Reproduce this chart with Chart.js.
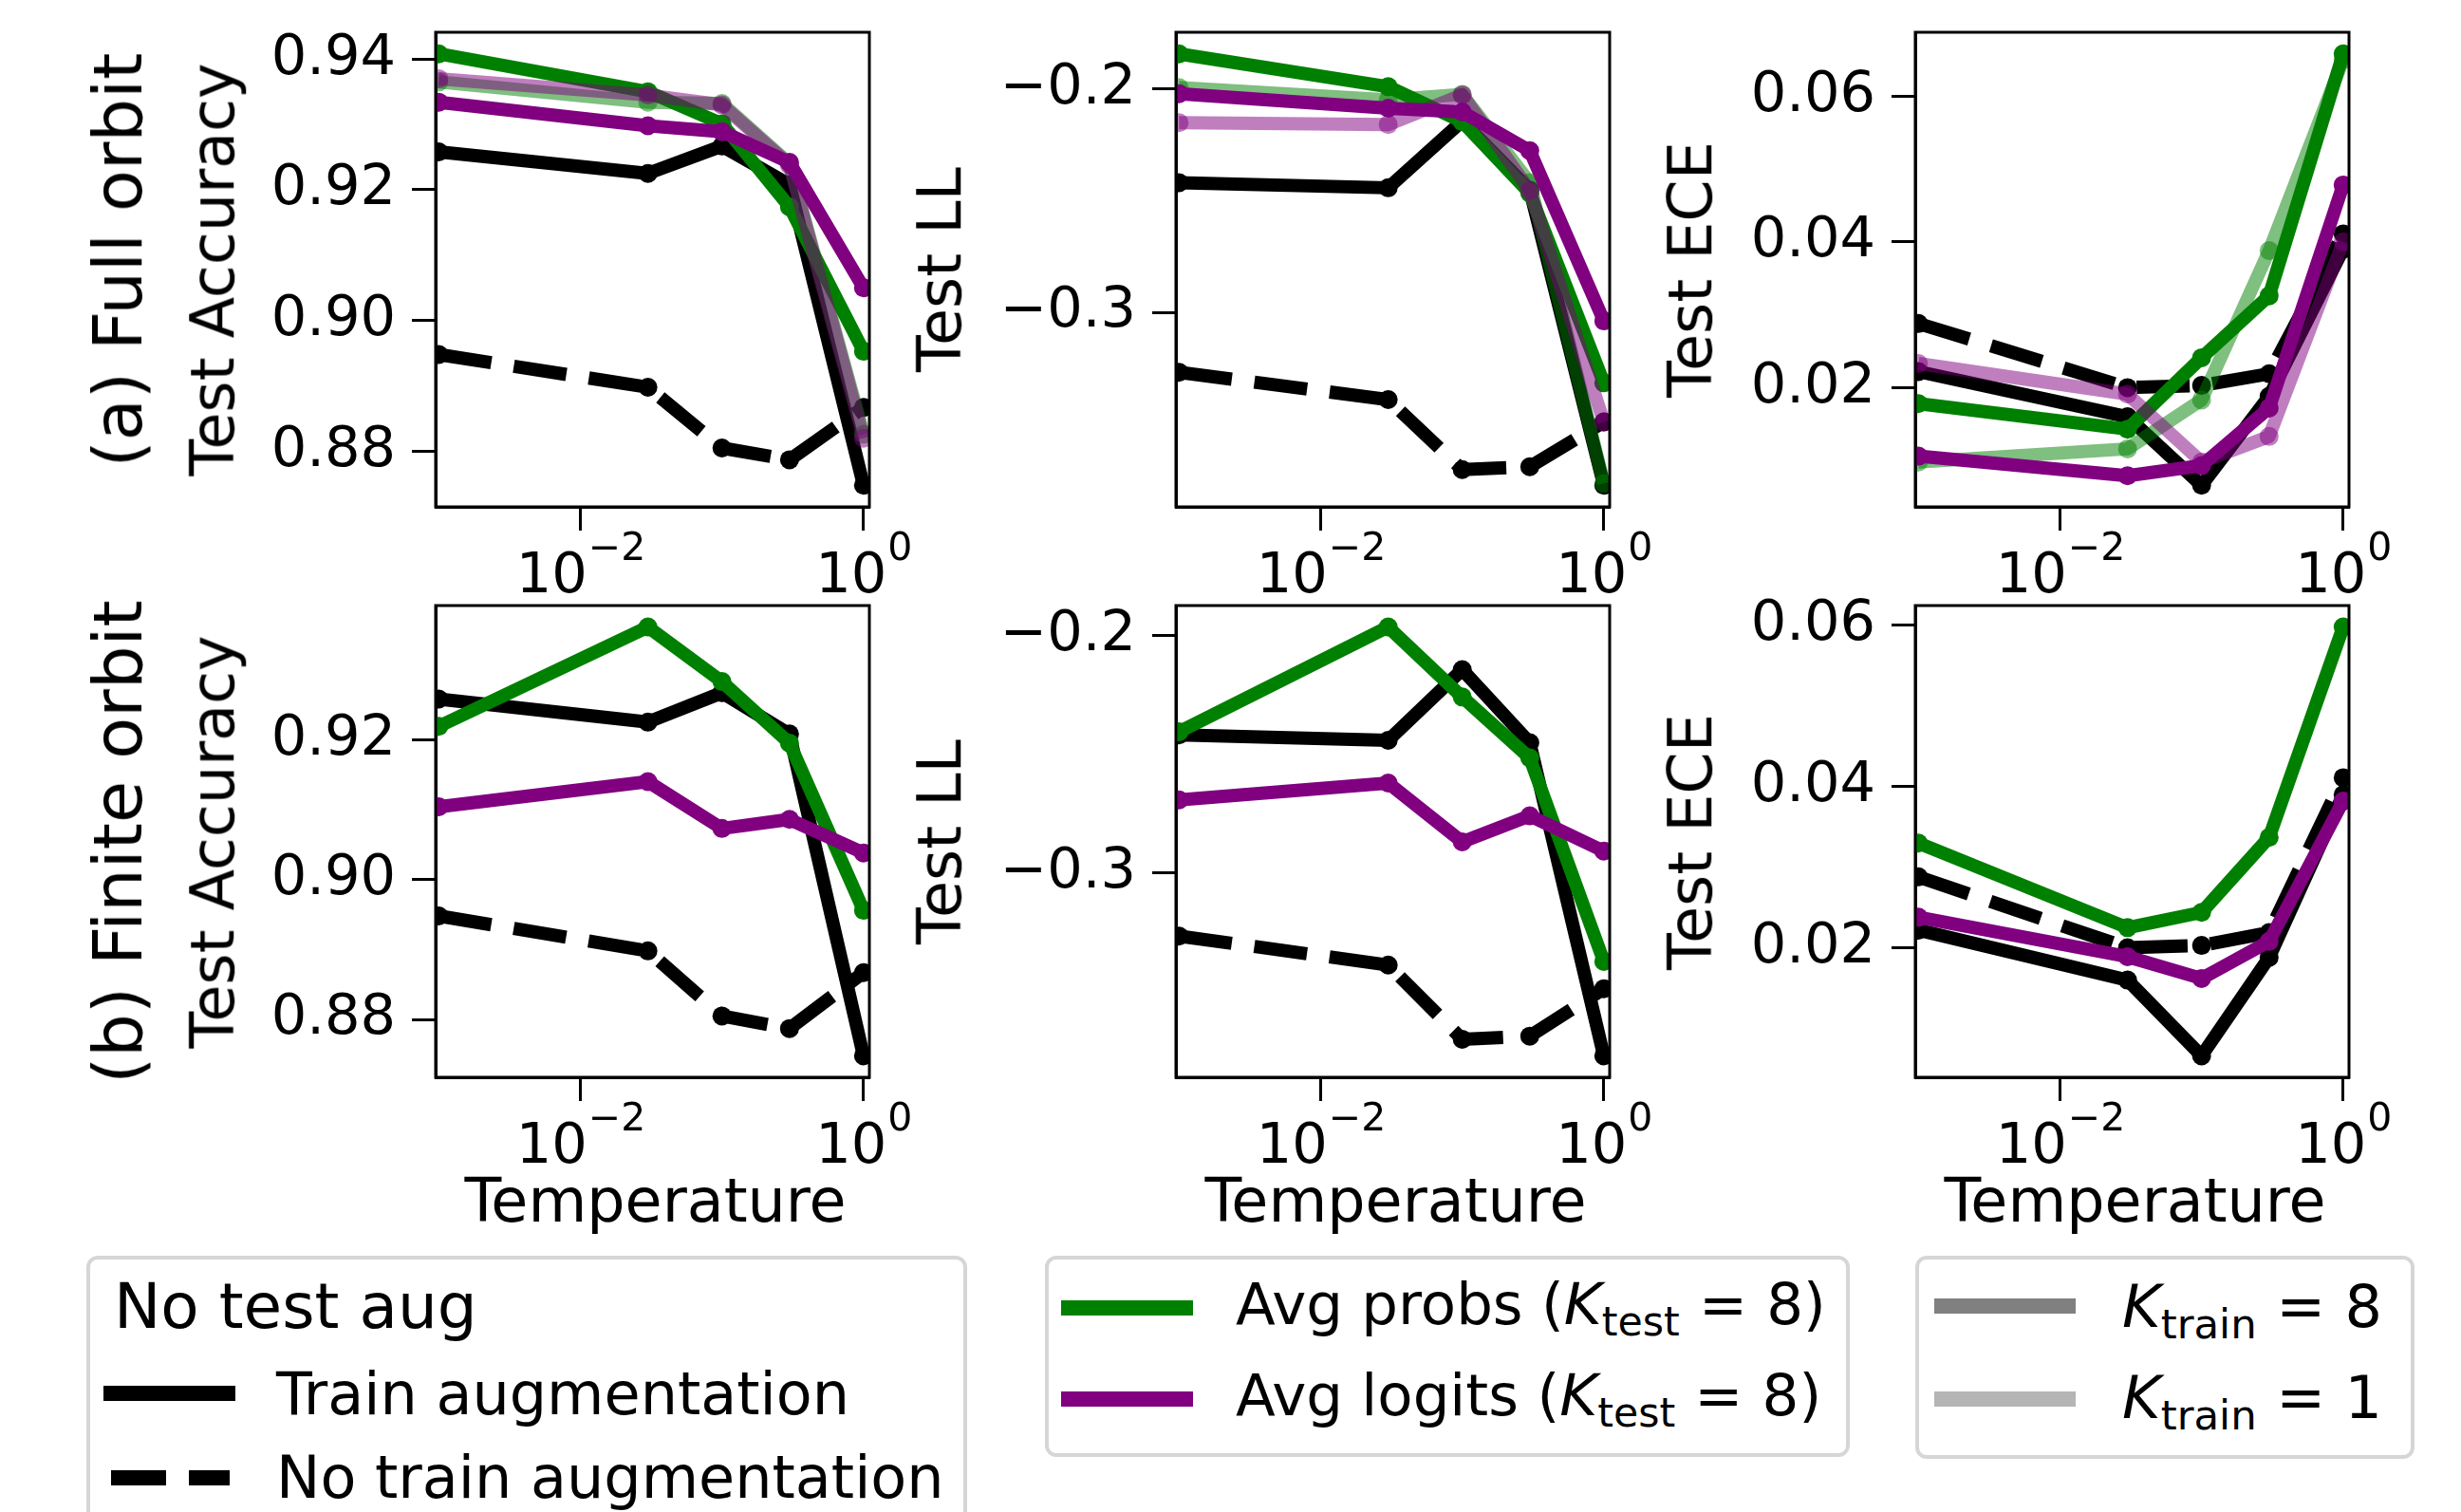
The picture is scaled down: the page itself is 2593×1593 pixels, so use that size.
<!DOCTYPE html>
<html>
<head>
<meta charset="utf-8">
<script src="https://cdn.jsdelivr.net/npm/chart.js@4.4.1/dist/chart.umd.min.js"></script>
<style>
  html, body { margin: 0; padding: 0; background: #fff; }
  body { width: 2593px; height: 1593px; position: relative; overflow: hidden;
         font-family: 'DejaVu Sans', sans-serif; color: #000; }
  canvas { position: absolute; }
  .txt { position: absolute; white-space: nowrap; line-height: 1; }
  .rot { transform: translate(-50%, -50%) rotate(-90deg); }
  .hc { transform: translateX(-50%); }
  .box { position: absolute; box-sizing: border-box; border: 4px solid #d6d6d6;
         border-radius: 12px; background: #fff; }
  .line { position: absolute; height: 16px; }
  .k { font-style: italic; }
  .sub { font-size: 0.7em; position: relative; top: 0.28em; }
  .eq { margin: 0 0.33em; }
</style>
</head>
<body>
<script>
// Temperatures (x axis, log scale)
const temps = [0.001, 0.03, 0.1, 0.3, 1.0];

// No test aug (same in both rows)
const accTrainAug   = [0.9258, 0.9225, 0.9267, 0.9208, 0.8748];
const accNoTrainAug = [0.8948, 0.8898, 0.8805, 0.8787, 0.8867];
const llTrainAug    = [-0.2420, -0.2443, -0.2145, -0.2453, -0.3773];
const llNoTrainAug  = [-0.3268, -0.3390, -0.3703, -0.3690, -0.3490];
const eceTrainAug   = [0.0222, 0.0160, 0.0066, 0.0188, 0.0390];
const eceNoTrainAug = [0.0288, 0.0200, 0.0203, 0.0219, 0.0411];

// (a) Full orbit, Ktrain = 8 and Ktrain = 1
const fullAccProbs8   = [0.9408, 0.9350, 0.9301, 0.9174, 0.8953];
const fullAccProbs1   = [0.9365, 0.9334, 0.9332, 0.9240, 0.8826];
const fullAccLogits8  = [0.9334, 0.9298, 0.9289, 0.9242, 0.9050];
const fullAccLogits1  = [0.9370, 0.9345, 0.9330, 0.9238, 0.8820];
const fullLLProbs8    = [-0.1844, -0.1991, -0.2147, -0.2467, -0.3315];
const fullLLProbs1    = [-0.1995, -0.2050, -0.2025, -0.2420, -0.3765];
const fullLLLogits8   = [-0.2022, -0.2087, -0.2104, -0.2277, -0.3038];
const fullLLLogits1   = [-0.2152, -0.2160, -0.2028, -0.2455, -0.3490];
const fullECEProbs8   = [0.0178, 0.0143, 0.0241, 0.0326, 0.0658];
const fullECEProbs1   = [0.0098, 0.0116, 0.0183, 0.0388, 0.0650];
const fullECELogits8  = [0.0106, 0.0079, 0.0093, 0.0172, 0.0478];
const fullECELogits1  = [0.0233, 0.0191, 0.0098, 0.0133, 0.0400];

// (b) Finite orbit
const finAccProbs  = [0.9219, 0.9361, 0.9283, 0.9195, 0.8956];
const finAccLogits = [0.9104, 0.9140, 0.9073, 0.9086, 0.9038];
const finLLProbs   = [-0.2407, -0.1965, -0.2260, -0.2517, -0.3375];
const finLLLogits  = [-0.2694, -0.2623, -0.2871, -0.2761, -0.2910];
const finECEProbs  = [0.0330, 0.0225, 0.0244, 0.0337, 0.0598];
const finECELogits = [0.0238, 0.0189, 0.0162, 0.0208, 0.0382];

// Tick values
const tempTicks = [0.01, 1];
const accTicks = [0.88, 0.90, 0.92, 0.94];
const llTicks = [-0.3, -0.2];
const eceTicks = [0.02, 0.04, 0.06];

const GREEN = '#008000', PURPLE = '#800080', BLACK = '#000000';
const LGREEN = 'rgba(0,128,0,0.5)', LPURPLE = 'rgba(128,0,128,0.5)';
const TICK_SIZE = 59;

// panel geometry (page pixels)
const colLeft = [459, 1239, 2018];
const rowTop = [34, 638];
const rowH = [500, 497];
const PW = 457;
const PAD_L = 330, PAD_T = 60, PAD_R = 120, PAD_B = 130;

Chart.defaults.font.family = "'DejaVu Sans'";
Chart.defaults.color = '#000';

function serie(values, color, order, extra) {
  return Object.assign({
    data: temps.map((t, i) => ({ x: t, y: values[i] })),
    borderColor: color,
    backgroundColor: color,
    pointBackgroundColor: color,
    pointBorderWidth: 0,
    pointRadius: 10,
    borderWidth: 14,
    borderJoinStyle: 'round',
    borderCapStyle: 'butt',
    tension: 0,
    fill: false,
    clip: 0,
    order: order
  }, extra || {});
}

// 10^n tick labels under the x axis
const expLabels = {
  id: 'expLabels',
  afterDraw(chart) {
    const xs = chart.scales.x;
    const ctx = chart.ctx;
    const bottom = chart.chartArea.bottom;
    const supSize = Math.round(TICK_SIZE * 0.7);
    ctx.save();
    ctx.fillStyle = '#000';
    ctx.textAlign = 'left';
    ctx.textBaseline = 'alphabetic';
    xs.ticks.forEach(t => {
      const e = Math.round(Math.log10(t.value));
      const sup = e < 0 ? '\u2212' + (-e) : String(e);
      ctx.font = TICK_SIZE + "px 'DejaVu Sans'";
      const wb = ctx.measureText('10').width;
      ctx.font = supSize + "px 'DejaVu Sans'";
      const ws = ctx.measureText(sup).width;
      const x0 = xs.getPixelForValue(t.value) - (wb + ws) / 2;
      ctx.font = TICK_SIZE + "px 'DejaVu Sans'";
      ctx.fillText('10', x0, bottom + 90);
      ctx.font = supSize + "px 'DejaVu Sans'";
      ctx.fillText(sup, x0 + wb + 1, bottom + 56);
    });
    ctx.restore();
  }
};

// axes box on all four sides
const frame = {
  id: 'frame',
  afterDraw(chart) {
    const a = chart.chartArea;
    const ctx = chart.ctx;
    ctx.save();
    ctx.strokeStyle = '#000';
    ctx.lineWidth = 3;
    ctx.strokeRect(a.left, a.top, a.right - a.left, a.bottom - a.top);
    ctx.restore();
  }
};

function fmtTick(v, dec) {
  const s = Math.abs(v).toFixed(dec);
  return v < 0 ? '\u2212' + s : s;
}

function makePanel(row, col, datasets, yTicks, dec) {
  const L = colLeft[col], T = rowTop[row], H = rowH[row];
  const cv = document.createElement('canvas');
  cv.width = PAD_L + PW + PAD_R;
  cv.height = PAD_T + H + PAD_B;
  cv.style.left = (L - PAD_L) + 'px';
  cv.style.top = (T - PAD_T) + 'px';
  document.body.appendChild(cv);

  // y limits like matplotlib autoscale (5% margin)
  let lo = Infinity, hi = -Infinity;
  datasets.forEach(d => d.data.forEach(p => { lo = Math.min(lo, p.y); hi = Math.max(hi, p.y); }));
  const m = (hi - lo) * 0.05;
  const yMin = lo - m, yMax = hi + m;

  new Chart(cv.getContext('2d'), {
    type: 'line',
    data: { datasets: datasets },
    options: {
      responsive: false,
      maintainAspectRatio: false,
      devicePixelRatio: 1,
      animation: false,
      events: [],
      layout: { padding: { left: 0, top: PAD_T, right: PAD_R, bottom: 0 } },
      plugins: { legend: { display: false }, tooltip: { enabled: false } },
      scales: {
        x: {
          type: 'logarithmic',
          min: 0.00095,
          max: 1.1,
          afterBuildTicks: s => { s.ticks = tempTicks.map(v => ({ value: v, major: true })); },
          afterFit: s => { s.height = PAD_B; },
          ticks: { callback: () => '', autoSkip: false, padding: 0, font: { size: TICK_SIZE } },
          grid: { drawOnChartArea: false, drawTicks: true, tickLength: 25, tickWidth: 3, tickColor: '#000' },
          border: { display: true, color: '#000', width: 3 }
        },
        y: {
          type: 'linear',
          min: yMin,
          max: yMax,
          afterBuildTicks: s => { s.ticks = yTicks.filter(v => v >= yMin && v <= yMax).map(v => ({ value: v })); },
          afterFit: s => { s.width = PAD_L; },
          ticks: { callback: v => fmtTick(v, dec), autoSkip: false, padding: 17, color: '#000', font: { size: TICK_SIZE } },
          grid: { drawOnChartArea: false, drawTicks: true, tickLength: 25, tickWidth: 3, tickColor: '#000' },
          border: { display: true, color: '#000', width: 3 }
        }
      }
    },
    plugins: [frame, expLabels]
  });
}

function text(html, x, y, size, cls) {
  const d = document.createElement('div');
  d.className = 'txt ' + (cls || '');
  d.style.left = x + 'px';
  d.style.top = y + 'px';
  d.style.fontSize = size + 'px';
  d.innerHTML = html;
  document.body.appendChild(d);
  return d;
}
// left aligned text placed by its baseline
function textBase(html, x, baseline, size) {
  return text(html, x, baseline - 0.846 * size, size);
}
function legendLine(x, w, yc, css) {
  const d = document.createElement('div');
  d.className = 'line';
  d.style.left = x + 'px';
  d.style.width = w + 'px';
  d.style.top = (yc - 8) + 'px';
  d.style.background = css;
  document.body.appendChild(d);
}
function box(x, y, w, h) {
  const d = document.createElement('div');
  d.className = 'box';
  d.style.left = x + 'px'; d.style.top = y + 'px';
  d.style.width = w + 'px'; d.style.height = h + 'px';
  document.body.appendChild(d);
}

const dashed = { borderDash: [56, 24] };

// row 1: full orbit
makePanel(0, 0, [
  serie(accTrainAug, BLACK, 6), serie(accNoTrainAug, BLACK, 5, dashed),
  serie(fullAccProbs1, LGREEN, 4), serie(fullAccProbs8, GREEN, 3),
  serie(fullAccLogits1, LPURPLE, 2), serie(fullAccLogits8, PURPLE, 1)
], accTicks, 2);
makePanel(0, 1, [
  serie(llTrainAug, BLACK, 6), serie(llNoTrainAug, BLACK, 5, dashed),
  serie(fullLLProbs1, LGREEN, 4), serie(fullLLProbs8, GREEN, 3),
  serie(fullLLLogits1, LPURPLE, 2), serie(fullLLLogits8, PURPLE, 1)
], llTicks, 1);
makePanel(0, 2, [
  serie(eceTrainAug, BLACK, 6), serie(eceNoTrainAug, BLACK, 5, dashed),
  serie(fullECEProbs1, LGREEN, 4), serie(fullECEProbs8, GREEN, 3),
  serie(fullECELogits1, LPURPLE, 2), serie(fullECELogits8, PURPLE, 1)
], eceTicks, 2);

// row 2: finite orbit
makePanel(1, 0, [
  serie(accTrainAug, BLACK, 4), serie(accNoTrainAug, BLACK, 3, dashed),
  serie(finAccProbs, GREEN, 2), serie(finAccLogits, PURPLE, 1)
], accTicks, 2);
makePanel(1, 1, [
  serie(llTrainAug, BLACK, 4), serie(llNoTrainAug, BLACK, 3, dashed),
  serie(finLLProbs, GREEN, 2), serie(finLLLogits, PURPLE, 1)
], llTicks, 1);
makePanel(1, 2, [
  serie(eceTrainAug, BLACK, 4), serie(eceNoTrainAug, BLACK, 3, dashed),
  serie(finECEProbs, GREEN, 2), serie(finECELogits, PURPLE, 1)
], eceTicks, 2);

// axis titles
const AX = 63.5;
const yNames = ['Test Accuracy', 'Test LL', 'Test ECE'];
const yNameX = [225, 991, 1782];
for (let r = 0; r < 2; r++) {
  for (let c = 0; c < 3; c++) {
    text(yNames[c], yNameX[c], rowTop[r] + rowH[r] / 2, AX, 'rot');
  }
}
for (let c = 0; c < 3; c++) {
  text('Temperature', colLeft[c] + PW / 2 + 3, 1288 - 0.846 * AX, AX, 'hc');
}
text('(a) Full orbit', 124, rowTop[0] + rowH[0] / 2 - 10, 72, 'rot');
text('(b) Finite orbit', 124, rowTop[1] + rowH[1] / 2, 72, 'rot');

// legends
const LS = 62;
box(91, 1323, 928, 320);
textBase('No test aug', 120, 1400, 66);
legendLine(109, 139, 1468, '#000');
textBase('Train augmentation', 291, 1490, LS);
legendLine(117, 125, 1557, 'repeating-linear-gradient(to right, #000 0 58px, transparent 58px 82px)');
textBase('No train augmentation', 291, 1578, LS);

box(1101, 1323, 848, 212);
legendLine(1118, 139, 1378, GREEN);
textBase('Avg probs (<span class="k">K</span><span class="sub">test</span><span class="eq">=</span>8)', 1302, 1395, 61);
legendLine(1118, 139, 1474, PURPLE);
textBase('Avg logits (<span class="k">K</span><span class="sub">test</span><span class="eq">=</span>8)', 1302, 1491, 61);

box(2018, 1323, 526, 214);
legendLine(2038, 149, 1376, '#808080');
textBase('<span class="k">K</span><span class="sub">train</span><span class="eq">=</span>8', 2236, 1398, 62);
legendLine(2038, 149, 1474, '#b5b5b5');
textBase('<span class="k">K</span><span class="sub">train</span><span class="eq">=</span>1', 2236, 1494, 62);
</script>
</body>
</html>
